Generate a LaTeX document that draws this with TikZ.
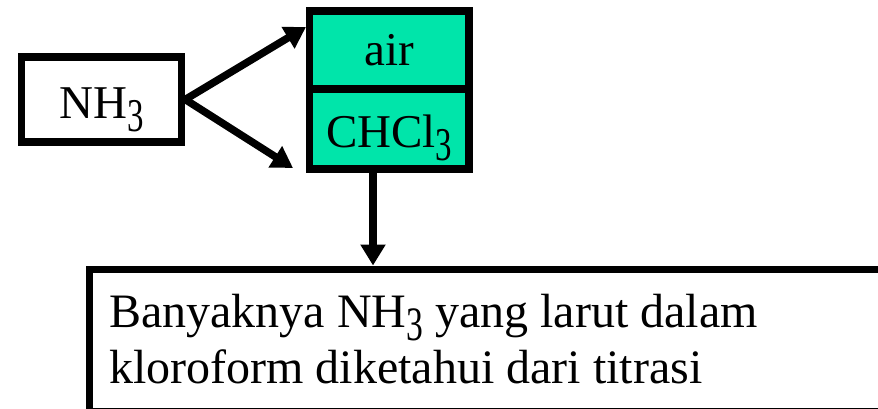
\documentclass[tikz,border=0pt]{standalone}
\usepackage{fontspec}
\setmainfont{Liberation Serif}
\usetikzlibrary{arrows.meta}
\definecolor{solgreen}{RGB}{0,229,170}
\newcommand{\subthree}{\raisebox{-13pt}{\scalebox{0.7}[1]{3}}}
\begin{document}
\begin{tikzpicture}[x=1pt,y=-1pt,
  txt/.style={font=\fontsize{47}{56}\selectfont},
  bigtxt/.style={font=\fontsize{48}{56}\selectfont},
  box/.style={draw=black, line width=7.5pt, inner sep=0pt, txt},
  solv/.style={box, fill=solgreen, minimum width=159.5pt},
  arr/.style={line width=7.5pt, -{Triangle[length=21pt,width=24pt]}}
]
\useasboundingbox (0,0) rectangle (878,408);
\clip (0,0) rectangle (878,408);
\node[box, minimum width=160pt, minimum height=85pt, text height=40pt, text depth=3pt] (nh) at (101.5,99.5) {NH\subthree\hspace{30pt}};
\node[solv, minimum height=78pt] (air) at (389.25,50) {air};
\node[solv, minimum height=80pt, text height=38pt, text depth=2pt] (chcl) at (389.25,129) {CHCl\subthree};
\node[box, minimum width=830pt, minimum height=142pt, anchor=north west] (hasil) at (85.5,265.5) {};
\node[bigtxt, align=left, anchor=base west, inner sep=0pt] (teks) at (109,383) {Banyaknya NH\subthree{} yang larut dalam\\kloroform diketahui dari titrasi};
\coordinate (tipA) at (306,27);
\coordinate (tipB) at (293,168);
\coordinate (ax) at (373,0);
\draw[arr] (nh.east) -- (tipA);
\draw[arr] (nh.east) -- (tipB);
\draw[arr] (chcl.south -| ax) -- (hasil.north -| ax);
\end{tikzpicture}
\end{document}
